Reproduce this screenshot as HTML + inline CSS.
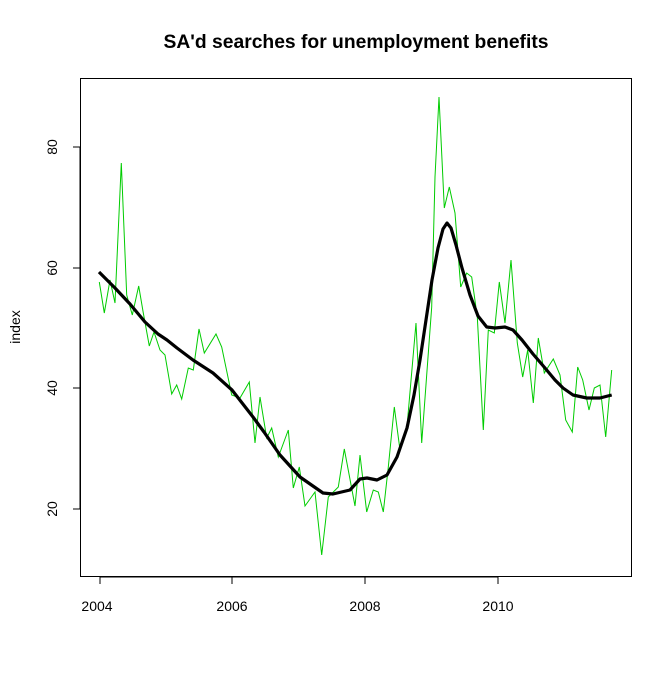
<!DOCTYPE html>
<html><head><style>body{margin:0;background:#fff}</style></head><body>
<svg width="672" height="672" xmlns="http://www.w3.org/2000/svg" font-family="Liberation Sans, sans-serif">
<rect width="672" height="672" fill="#fff"/>
<text x="356" y="48" text-anchor="middle" font-weight="bold" font-size="19.3">SA'd searches for unemployment benefits</text>
<rect x="80.5" y="78.5" width="551" height="498" fill="none" stroke="#000"/>
<g stroke="#000" fill="none">
<path d="M100 577V584M232 577V584M365 577V584M498 577V584M100 577H498"/>
<path d="M80 509H73M80 388H73M80 268H73M80 147H73M80 509V147"/>
</g>
<g font-size="14" text-anchor="middle">
<text x="97" y="611">2004</text><text x="232" y="611">2006</text><text x="365" y="611">2008</text><text x="498" y="611">2010</text>
<text transform="translate(57,509) rotate(-90)">20</text>
<text transform="translate(57,388) rotate(-90)">40</text>
<text transform="translate(57,268) rotate(-90)">60</text>
<text transform="translate(57,147) rotate(-90)">80</text>
<text transform="translate(20,327) rotate(-90)">index</text>
</g>
<polyline fill="none" stroke="#00cc00" stroke-width="1" points="99.3,282 104.3,313 110,280 115,303 121.3,163 126.7,295 132.3,315 138.7,286 143.3,313 149.3,346 154,332 160,350 165,355 171.7,394 176.7,385 181.7,399 188.3,368 193.3,370 199,329 204.3,353 216,334 221.7,347 231.7,395 240,398 249.3,382 255,443 260,397 266.7,438 271.7,428 278.3,457 288.3,430 293.3,488 299.3,467 305,506 315,492 321.7,555 328.3,497 338.3,487 344.3,449 355,506 360,455 366.7,512 373.3,490 378.3,492 383.3,512 388.3,467 394.3,407 400,450 406.7,430 406.7,430 416,323 421.7,443 431.7,307 435,177 439,97 444.3,208 449.3,187 455,213 460.7,287 466.7,273 471.7,277 477.3,317 483.3,430 488.3,330 494.3,333 499.3,282 505,323 511,260 517.3,343 522.7,377 527.7,350 533.3,403 538.3,338 544.3,373 553.3,359 560,375 565.7,420 572.3,432 577.7,367 582.7,380 589,410 594.3,388 600,385 605.7,437 611.7,370"/>
<polyline fill="none" stroke="#000" stroke-width="3.2" stroke-linejoin="round" points="99,272 115,288 130,304 145,322 158,334 167,340 177,348 193,360 213,373 232,390 253,417 264,432 280,455 300,477 323,493 333,494 350,490 360,479 367,478 377,480 387,475 397,457 407,428 414,395 420,360 426,320 432,280 438,248 443,229 447,223 451,228 456,245 462,268 470,295 478,316 486.7,327 495,328 505,327 513,330 522,340 533,354 545,368 555,380 563,388 573,395 586.7,398 600,398 611.7,395"/>
</svg>
</body></html>
